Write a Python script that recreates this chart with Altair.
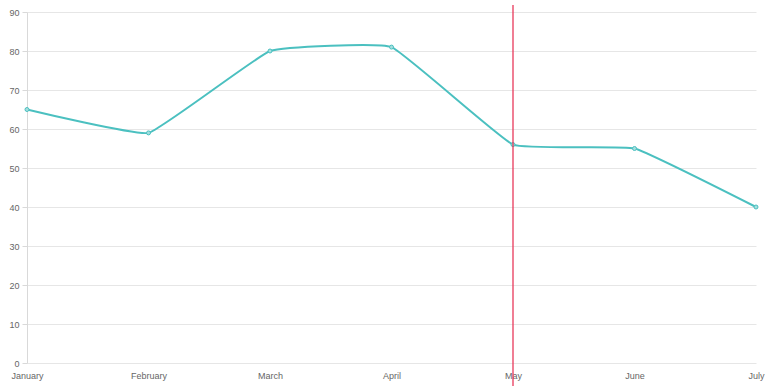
import altair as alt
import pandas as pd

months = ["January", "February", "March", "April", "May", "June", "July"]
values = [65, 59, 80, 81, 56, 55, 40]
marker_month = "May"

df = pd.DataFrame({"month": months, "value": values})

x_scale = alt.Scale(type="point", padding=0, domain=months)
y_scale = alt.Scale(domain=[0, 90], nice=False)

x_axis = alt.Axis(title=None, labelAngle=0, ticks=False, domain=False, grid=False,
                  labelColor="#666", labelFontSize=9, labelPadding=8,
                  labelFont="Liberation Sans")
y_axis = alt.Axis(title=None, values=list(range(0, 91, 10)), grid=True,
                  gridColor="#e6e6e6", domain=True, domainColor="#d9d9d9",
                  tickColor="#d9d9d9", tickSize=5, labelPadding=3, labelOverlap=False,
                  labelColor="#666", labelFontSize=9, labelFont="Liberation Sans")

x_enc = alt.X("month:N", sort=months, scale=x_scale, axis=x_axis)
y_enc = alt.Y("value:Q", scale=y_scale, axis=y_axis)

line = alt.Chart(df).mark_line(color="#4bc0c0", strokeWidth=2, interpolate="cardinal",
                               tension=0.7).encode(x=x_enc, y=y_enc)
pts = alt.Chart(df).mark_point(filled=True, fill="#a5dfdf", stroke="#4bc0c0", strokeWidth=1,
                               size=16, opacity=1).encode(x=x_enc, y=y_enc)

rule = alt.Chart(pd.DataFrame({"month": [marker_month]})).mark_rule(
    color="#e8385a", strokeWidth=1.3).encode(
    x=x_enc, y=alt.value(-7), y2=alt.value(374))

chart = alt.layer(line, pts, rule).properties(
    width=729, height=351,
    padding={"left": 27, "top": 12, "right": 12, "bottom": 23},
    autosize=alt.AutoSizeParams(type="none"),
    background="white",
).configure_view(stroke=None)

chart.save("out.html", embed_options={"renderer": "svg", "actions": False})
